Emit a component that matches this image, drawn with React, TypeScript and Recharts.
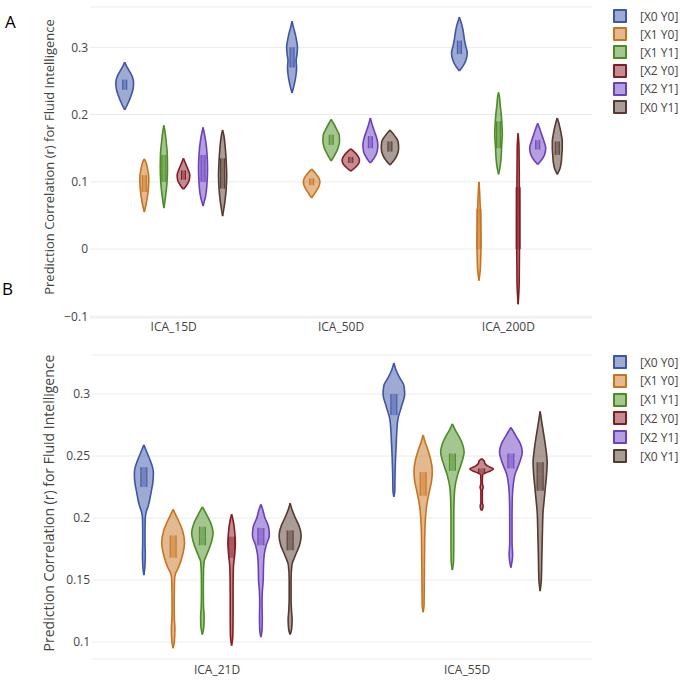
import { ComposedChart, Area, XAxis, YAxis, CartesianGrid } from "recharts"

const seriesNames = ["[X0 Y0]", "[X1 Y0]", "[X1 Y1]", "[X2 Y0]", "[X2 Y1]", "[X0 Y1]"]
const seriesColors = ["#3d56a6", "#c8741f", "#4b8c24", "#851c23", "#6b40bd", "#56392f"]

const groupsA = ["ICA_15D", "ICA_50D", "ICA_200D"]
const groupsB = ["ICA_21D", "ICA_55D"]
const ticksA = [-0.1, 0, 0.1, 0.2, 0.3]
const ticksB = [0.1, 0.15, 0.2, 0.25, 0.3]
const yTitle = "Prediction Correlation (r) for Fluid Intelligence"

// violin outlines, one per series: [correlation, relative half-width]
const ica15 = [
    [[0.207, 0], [0.215, 0.3], [0.228, 0.7], [0.24, 0.95], [0.248, 0.98], [0.256, 0.85], [0.265, 0.5], [0.272, 0.2], [0.278, 0]],
    [[0.055, 0], [0.07, 0.25], [0.09, 0.45], [0.105, 0.5], [0.12, 0.35], [0.13, 0.15], [0.134, 0]],
    [[0.061, 0], [0.08, 0.2], [0.1, 0.35], [0.12, 0.4], [0.14, 0.38], [0.16, 0.25], [0.175, 0.12], [0.184, 0]],
    [[0.089, 0], [0.095, 0.35], [0.103, 0.65], [0.11, 0.7], [0.117, 0.55], [0.125, 0.3], [0.135, 0]],
    [[0.064, 0], [0.08, 0.3], [0.1, 0.45], [0.12, 0.5], [0.14, 0.45], [0.16, 0.3], [0.175, 0.1], [0.181, 0]],
    [[0.049, 0], [0.07, 0.25], [0.09, 0.4], [0.11, 0.45], [0.13, 0.4], [0.15, 0.3], [0.17, 0.12], [0.177, 0]],
]
const ica50 = [
    [[0.232, 0], [0.245, 0.25], [0.26, 0.45], [0.27, 0.5], [0.28, 0.45], [0.29, 0.55], [0.3, 0.6], [0.31, 0.5], [0.32, 0.35], [0.33, 0.15], [0.339, 0]],
    [[0.076, 0], [0.085, 0.45], [0.093, 0.8], [0.1, 0.92], [0.107, 0.75], [0.113, 0.4], [0.119, 0]],
    [[0.131, 0], [0.14, 0.4], [0.15, 0.75], [0.16, 0.92], [0.17, 0.88], [0.178, 0.6], [0.186, 0.3], [0.193, 0]],
    [[0.116, 0], [0.122, 0.55], [0.128, 0.9], [0.133, 0.96], [0.14, 0.7], [0.145, 0.35], [0.149, 0]],
    [[0.128, 0], [0.135, 0.4], [0.145, 0.75], [0.155, 0.83], [0.165, 0.7], [0.175, 0.45], [0.185, 0.2], [0.195, 0]],
    [[0.125, 0], [0.132, 0.45], [0.14, 0.8], [0.15, 0.96], [0.16, 0.9], [0.168, 0.55], [0.177, 0]],
]
const ica200 = [
    [[0.265, 0], [0.272, 0.4], [0.282, 0.75], [0.292, 0.87], [0.302, 0.7], [0.312, 0.55], [0.322, 0.45], [0.332, 0.3], [0.34, 0.12], [0.345, 0]],
    [[-0.047, 0], [-0.03, 0.15], [-0.01, 0.2], [0.01, 0.22], [0.03, 0.2], [0.05, 0.18], [0.07, 0.12], [0.09, 0.05], [0.1, 0]],
    [[0.111, 0], [0.125, 0.2], [0.14, 0.3], [0.155, 0.35], [0.17, 0.42], [0.185, 0.38], [0.2, 0.3], [0.215, 0.18], [0.228, 0.08], [0.233, 0]],
    [[-0.082, 0], [-0.05, 0.12], [0, 0.15], [0.05, 0.15], [0.1, 0.13], [0.15, 0.1], [0.172, 0]],
    [[0.126, 0], [0.132, 0.4], [0.14, 0.75], [0.15, 0.89], [0.16, 0.7], [0.17, 0.45], [0.18, 0.2], [0.187, 0]],
    [[0.111, 0], [0.12, 0.3], [0.13, 0.45], [0.14, 0.5], [0.15, 0.55], [0.16, 0.55], [0.17, 0.45], [0.18, 0.3], [0.19, 0.12], [0.195, 0]],
]
const ica21 = [
    [[0.154, 0], [0.16, 0.08], [0.17, 0.12], [0.18, 0.1], [0.19, 0.1], [0.2, 0.12], [0.205, 0.2], [0.21, 0.38], [0.22, 0.6], [0.23, 0.78], [0.237, 0.81], [0.245, 0.6], [0.252, 0.3], [0.259, 0]],
    [[0.095, 0], [0.1, 0.1], [0.11, 0.15], [0.12, 0.1], [0.13, 0.09], [0.14, 0.1], [0.15, 0.12], [0.155, 0.2], [0.16, 0.45], [0.17, 0.8], [0.18, 0.97], [0.19, 0.8], [0.197, 0.5], [0.203, 0.2], [0.207, 0]],
    [[0.106, 0], [0.112, 0.12], [0.12, 0.15], [0.128, 0.1], [0.14, 0.08], [0.155, 0.09], [0.165, 0.15], [0.17, 0.35], [0.18, 0.75], [0.188, 0.91], [0.195, 0.75], [0.202, 0.4], [0.209, 0]],
    [[0.097, 0], [0.105, 0.1], [0.12, 0.12], [0.14, 0.12], [0.16, 0.15], [0.17, 0.25], [0.18, 0.32], [0.19, 0.25], [0.197, 0.15], [0.203, 0]],
    [[0.104, 0], [0.11, 0.1], [0.12, 0.12], [0.13, 0.1], [0.14, 0.12], [0.15, 0.2], [0.16, 0.22], [0.17, 0.28], [0.178, 0.45], [0.186, 0.72], [0.193, 0.65], [0.2, 0.35], [0.207, 0.15], [0.211, 0]],
    [[0.106, 0], [0.11, 0.12], [0.118, 0.17], [0.125, 0.12], [0.135, 0.08], [0.15, 0.08], [0.162, 0.15], [0.17, 0.45], [0.178, 0.8], [0.186, 0.94], [0.194, 0.75], [0.2, 0.45], [0.207, 0.15], [0.212, 0]],
]
const ica55 = [
    [[0.217, 0], [0.222, 0.08], [0.235, 0.1], [0.25, 0.15], [0.26, 0.2], [0.27, 0.25], [0.28, 0.35], [0.29, 0.65], [0.3, 0.92], [0.307, 0.85], [0.313, 0.5], [0.319, 0.2], [0.325, 0]],
    [[0.124, 0], [0.13, 0.08], [0.15, 0.1], [0.17, 0.12], [0.19, 0.15], [0.2, 0.2], [0.21, 0.3], [0.22, 0.5], [0.23, 0.72], [0.238, 0.78], [0.247, 0.65], [0.255, 0.4], [0.262, 0.15], [0.267, 0]],
    [[0.158, 0], [0.165, 0.1], [0.18, 0.12], [0.2, 0.12], [0.215, 0.15], [0.225, 0.22], [0.235, 0.45], [0.245, 0.8], [0.253, 1.0], [0.26, 0.85], [0.266, 0.55], [0.271, 0.25], [0.276, 0]],
    [[0.206, 0], [0.208, 0.1], [0.21, 0.12], [0.212, 0.06], [0.222, 0.06], [0.225, 0.13], [0.228, 0.06], [0.235, 0.08], [0.237, 0.5], [0.2395, 1.0], [0.242, 0.5], [0.244, 0.28], [0.246, 0.22], [0.248, 0]],
    [[0.16, 0], [0.165, 0.1], [0.17, 0.15], [0.18, 0.1], [0.2, 0.1], [0.215, 0.12], [0.225, 0.18], [0.235, 0.35], [0.245, 0.75], [0.253, 0.97], [0.26, 0.8], [0.265, 0.5], [0.27, 0.2], [0.273, 0]],
    [[0.141, 0], [0.15, 0.1], [0.17, 0.15], [0.19, 0.2], [0.205, 0.25], [0.215, 0.35], [0.225, 0.45], [0.235, 0.55], [0.245, 0.6], [0.255, 0.5], [0.265, 0.35], [0.275, 0.18], [0.286, 0]],
]

// inner boxes: [q1, median, q3]
const box15 = [[0.237, 0.244, 0.252], [0.085, 0.1, 0.11], [0.1, 0.12, 0.14], [0.103, 0.11, 0.117], [0.1, 0.12, 0.14], [0.09, 0.11, 0.135]]
const box50 = [[0.27, 0.285, 0.3], [0.095, 0.1, 0.105], [0.155, 0.162, 0.17], [0.128, 0.132, 0.137], [0.15, 0.158, 0.168], [0.145, 0.152, 0.16]]
const box200 = [[0.29, 0.3, 0.31], [0, 0.03, 0.06], [0.15, 0.17, 0.19], [0, 0.04, 0.092], [0.148, 0.155, 0.162], [0.14, 0.15, 0.16]]
const box21 = [[0.225, 0.232, 0.241], [0.168, 0.177, 0.186], [0.178, 0.185, 0.193], [0.168, 0.177, 0.185], [0.178, 0.185, 0.192], [0.174, 0.181, 0.19]]
const box55 = [[0.283, 0.292, 0.3], [0.218, 0.228, 0.237], [0.238, 0.245, 0.252], [0.236, 0.238, 0.24], [0.24, 0.247, 0.252], [0.222, 0.235, 0.245]]

const FONT = "'Open Sans', 'Noto Sans', sans-serif"
const SLOT = 0.117

function spanRows(values: number[], pos: number, half: number[]) {
    return values.map((v, i) => ({ v, r: [pos - half[i], pos + half[i]] }))
}

interface PanelProps {
    groups: string[]
    profiles: number[][][][]
    boxes: number[][][]
    ticks: number[]
    domain: [number, number]
    height: number
    marginTop: number
    yWidth: number
    violinHalf: number
    boxHalf: number
    tickGap: number
}

function ViolinPanel({ groups, profiles, boxes, ticks, domain, height, marginTop, yWidth, violinHalf, boxHalf, tickGap }: PanelProps) {
    const items: JSX.Element[] = []
    groups.forEach((g, gi) => {
        seriesNames.forEach((name, si) => {
            const pos = gi + 0.5 + (si - 2.5) * SLOT
            const color = seriesColors[si]
            const prof = profiles[gi][si]
            items.push(
                <Area
                    key={`v-${g}-${si}`}
                    data={spanRows(prof.map((p) => p[0]), pos, prof.map((p) => p[1] * violinHalf))}
                    dataKey="r"
                    type="monotone"
                    stroke={color}
                    strokeWidth={1.6}
                    fill={color}
                    fillOpacity={0.5}
                    dot={false}
                    activeDot={false}
                    isAnimationActive={false}
                />
            )
            const [q1, med, q3] = boxes[gi][si]
            ;[[q1, med], [med, q3]].forEach((seg, k) => {
                items.push(
                    <Area
                        key={`b-${g}-${si}-${k}`}
                        data={spanRows(seg, pos, [boxHalf, boxHalf])}
                        dataKey="r"
                        type="linear"
                        stroke={color}
                        strokeWidth={1}
                        fill={color}
                        fillOpacity={0.45}
                        dot={false}
                        activeDot={false}
                        isAnimationActive={false}
                    />
                )
            })
        })
    })

    const tickStyle = { fontSize: 12, fill: "#444", fontFamily: FONT }

    return (
        <ComposedChart
            layout="vertical"
            width={688}
            height={height}
            margin={{ top: marginTop, right: 96, left: 0, bottom: 0 }}
        >
            <CartesianGrid vertical={false} stroke="#ebebeb" strokeWidth={1} />
            <XAxis
                type="number"
                domain={[0, groups.length]}
                ticks={groups.map((_, i) => i + 0.5)}
                tickFormatter={(t: number) => groups[Math.floor(t)]}
                allowDataOverflow
                axisLine={false}
                tickLine={false}
                tickSize={2}
                tickMargin={tickGap}
                height={22}
                tick={tickStyle}
            />
            <YAxis
                type="number"
                dataKey="v"
                domain={domain}
                ticks={ticks}
                tickFormatter={(t: number) => String(t).replace("-", "\u2212")}
                reversed
                allowDataOverflow
                axisLine={false}
                tickLine={false}
                tickSize={2}
                tickMargin={0}
                width={yWidth}
                tick={tickStyle}
            />
            {items}
        </ComposedChart>
    )
}

function LegendBlock({ top, step }: { top: number; step: number }) {
    return (
        <>
            {seriesNames.map((name, i) => (
                <div
                    key={name}
                    style={{ position: "absolute", left: 613, top: top + i * step - 7, height: 14, display: "flex", alignItems: "center" }}
                >
                    <span
                        style={{
                            width: 10,
                            height: 10,
                            border: `2px solid ${seriesColors[i]}`,
                            background: seriesColors[i] + "80",
                            borderRadius: 1,
                        }}
                    />
                    <span style={{ marginLeft: 13, fontSize: 12, color: "#444", fontFamily: FONT }}>{name}</span>
                </div>
            ))}
        </>
    )
}

function AxisTitle({ cx, cy, size }: { cx: number; cy: number; size: number }) {
    return (
        <div
            style={{
                position: "absolute",
                left: cx - 200,
                top: cy - 10,
                width: 400,
                height: 20,
                lineHeight: "20px",
                textAlign: "center",
                transform: "rotate(-90deg)",
                fontSize: size,
                color: "#444",
                fontFamily: FONT,
                whiteSpace: "nowrap",
            }}
        >
            {yTitle}
        </div>
    )
}

export default function App() {
    return (
        <div style={{ position: "absolute", left: 0, top: 0, width: 688, height: 681, background: "#fff", overflow: "hidden" }}>
            <div style={{ position: "absolute", left: 0, top: 0 }}>
                <ViolinPanel
                    groups={groupsA}
                    profiles={[ica15, ica50, ica200]}
                    boxes={[box15, box50, box200]}
                    ticks={ticksA}
                    domain={[-0.1025, 0.36]}
                    height={340}
                    marginTop={7}
                    yWidth={90}
                    violinHalf={0.054}
                    boxHalf={0.012}
                    tickGap={2}
                />
            </div>
            <div style={{ position: "absolute", left: 0, top: 340 }}>
                <ViolinPanel
                    groups={groupsB}
                    profiles={[ica21, ica55]}
                    boxes={[box21, box55]}
                    ticks={ticksB}
                    domain={[0.0863, 0.3315]}
                    height={341}
                    marginTop={15}
                    yWidth={92}
                    violinHalf={0.047}
                    boxHalf={0.012}
                    tickGap={4}
                />
            </div>
            <AxisTitle cx={49} cy={157} size={13} />
            <AxisTitle cx={49} cy={503} size={14} />
            <LegendBlock top={16} step={18.2} />
            <LegendBlock top={362} step={18.8} />
            <div style={{ position: "absolute", left: 5, top: 10, fontSize: 17, fontFamily: FONT, color: "#000" }}>A</div>
            <div style={{ position: "absolute", left: 2, top: 277, fontSize: 17, fontFamily: FONT, color: "#000" }}>B</div>
        </div>
    )
}
